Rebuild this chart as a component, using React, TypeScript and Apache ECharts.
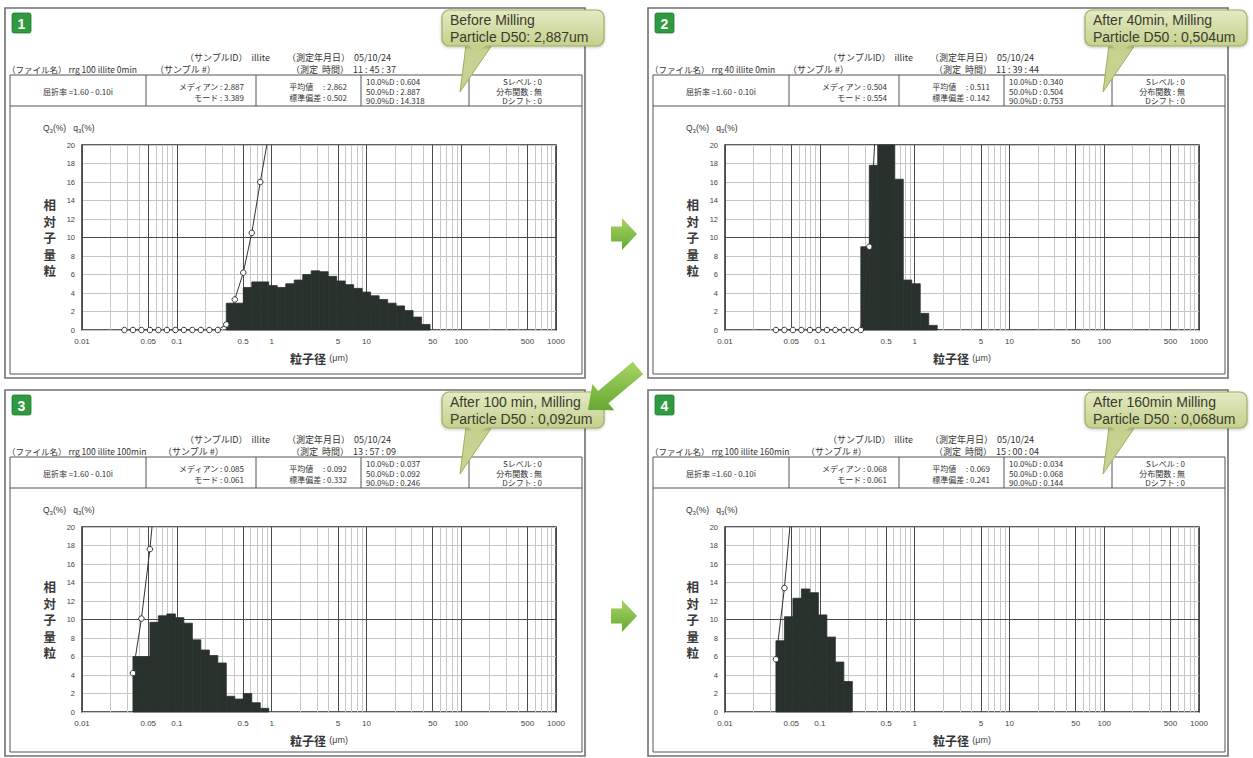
import React, { useEffect, useRef } from "react";
import * as echarts from "echarts";

// ---------- DATA ----------
// Instrument channel edges (µm), channel 5 .. channel 41
const FIRST_CHANNEL = 5;
const CHANNEL_EDGES = [
  0.02803, 0.03445, 0.04233, 0.05203, 0.06394, 0.07858, 0.0966, 0.11871,
  0.14589, 0.1793, 0.22036, 0.27083, 0.33285, 0.40908, 0.50277, 0.6179,
  0.75942, 0.93313, 1.1468, 1.4094, 1.7322, 2.1289, 2.6164, 3.2156, 3.9521,
  4.8572, 5.9696, 7.3367, 9.017, 11.082, 13.62, 16.739, 20.573, 25.284,
  31.075, 38.192, 46.939,
];

const X_TICKS = [0.01, 0.05, 0.1, 0.5, 1, 5, 10, 50, 100, 500, 1000];
const X_MIN = 0.01;
const X_MAX = 1000;
const Y_MAX = 20;
const Y_STEP = 2;
const Y_BOLD_LINE = 10;
const DECADES = [0.01, 0.1, 1, 10, 100];
const MINOR_MULT = [2, 3, 4, 6, 7, 8, 9];
const MID_MULT = 5;

// q3 (%) histogram per channel, starting at channel BIN_START[i]
const BIN_START = [17, 16, 6, 6];
const Q3_BINS_1 = [2.9, 2.9, 4.6, 5.2, 5.2, 4.8, 4.6, 5.0, 5.4, 6.0, 6.4, 6.3, 5.8, 5.3, 4.9, 4.5, 4.1, 3.7, 3.3, 2.9, 2.6, 2.1, 1.4, 0.6];
const Q3_BINS_2 = [9.0, 17.8, 24.0, 20.3, 16.3, 5.4, 5.0, 1.8, 0.5];
const Q3_BINS_3 = [6.0, 6.0, 9.7, 10.4, 10.6, 10.2, 9.6, 7.8, 6.7, 6.1, 5.3, 1.7, 1.4, 2.0, 1.0, 0.4];
const Q3_BINS_4 = [7.7, 10.3, 12.3, 13.3, 12.9, 10.5, 8.1, 5.4, 3.3];
const BINS = [Q3_BINS_1, Q3_BINS_2, Q3_BINS_3, Q3_BINS_4];

// Q3 (%) cumulative points at channel edges, starting at CUM_START[i]
const CUM_START = [5, 6, 6, 6];
const Q3_CUM_1 = [0, 0, 0, 0, 0, 0, 0, 0, 0, 0, 0, 0, 0.6, 3.3, 6.2, 10.5, 16.0, 21.2];
const Q3_CUM_2 = [0, 0, 0, 0, 0, 0, 0, 0, 0, 0, 0, 9.0, 26.8];
const Q3_CUM_3 = [4.2, 10.1, 17.6, 27.3];
const Q3_CUM_4 = [5.7, 13.4, 23.7];
const CUMS = [Q3_CUM_1, Q3_CUM_2, Q3_CUM_3, Q3_CUM_4];

const BADGES = ["1", "2", "3", "4"];
const SAMPLE_ID = "illite";
const MEASURE_DATE = "05/10/24";
const FILE_NAMES = ["rrg 100 illite 0min", "rrg 40 illite 0min", "rrg 100 illite 100min", "rrg 100 illite 160min"];
const MEASURE_TIMES = ["11 : 45 : 37", "11 : 39 : 44", "13 : 57 : 09", "15 : 00 : 04"];
const REFRACTIVE = "屈折率 =1.60 - 0.10i";
const MEDIANS = ["2.887", "0.504", "0.085", "0.068"];
const MODES = ["3.389", "0.554", "0.061", "0.061"];
const MEANS = ["2.862", "0.511", "0.092", "0.069"];
const SDS = ["0.502", "0.142", "0.332", "0.241"];
const D10S = ["0.604", "0.340", "0.037", "0.034"];
const D50S = ["2.887", "0.504", "0.092", "0.068"];
const D90S = ["14.318", "0.753", "0.246", "0.144"];
const CALLOUT_TITLES = ["Before Milling", "After 40min, Milling", "After 100 min, Milling", "After 160min Milling"];
const CALLOUT_D50 = ["Particle D50: 2,887um", "Particle D50 : 0,504um", "Particle D50 : 0,092um", "Particle D50 : 0,068um"];

// ---------- LAYOUT ----------
const W = 1253;
const H = 758;
const PANELS = [
  { x: 5, y: 8, h: 370 },
  { x: 648, y: 8, h: 370 },
  { x: 5, y: 390, h: 366 },
  { x: 648, y: 390, h: 366 },
];
const SAMPLE_NO_X = [150, 140, 158, 158];
const PANEL_W = 580;
const CJK = '"Noto Sans CJK JP", "Noto Sans", sans-serif';
const LAT = '"Liberation Sans", Arial, sans-serif';
const NARROW = '"Liberation Sans Narrow", "Liberation Sans", Arial, sans-serif';
const BAR_COLOR = "#29312d";
const DARK_GRID = "#4a4a4a";
const LIGHT_GRID = "#c6c6c6";

function edge(ch: number) {
  return CHANNEL_EDGES[ch - FIRST_CHANNEL];
}

function txt(x: number, y: number, text: string, o: any = {}) {
  const align = o.align || "left";
  return {
    type: "text",
    x,
    y,
    z: 100,
    silent: true,
    style: {
      text,
      fill: o.fill || "#333",
      fontSize: o.size || 8.5,
      fontFamily: o.family || CJK,
      fontWeight: o.weight || "normal",
      align,
      textAlign: align,
      verticalAlign: "middle",
      textVerticalAlign: "middle",
      rich: o.rich,
    },
  };
}

function arrowPoints(tail: number[], tip: number[], sh: number, hh: number, hl: number) {
  const dx = tip[0] - tail[0];
  const dy = tip[1] - tail[1];
  const L = Math.hypot(dx, dy);
  const ux = dx / L, uy = dy / L;
  const nx = -uy, ny = ux;
  const bx = tip[0] - ux * hl, by = tip[1] - uy * hl;
  return [
    [tail[0] + nx * sh, tail[1] + ny * sh],
    [bx + nx * sh, by + ny * sh],
    [bx + nx * hh, by + ny * hh],
    [tip[0], tip[1]],
    [bx - nx * hh, by - ny * hh],
    [bx - nx * sh, by - ny * sh],
    [tail[0] - nx * sh, tail[1] - ny * sh],
  ];
}

const ARROW_FILL = {
  type: "linear", x: 0, y: 0, x2: 0, y2: 1,
  colorStops: [{ offset: 0, color: "#a8d466" }, { offset: 1, color: "#67a832" }],
};

function panelGraphics(i: number) {
  const { x: px, y: py, h: ph } = PANELS[i];
  const els: any[] = [];
  // panel frame
  els.push({ type: "rect", z: -10, silent: true, shape: { x: px, y: py, width: PANEL_W, height: ph }, style: { fill: "#fff", stroke: "#707070", lineWidth: 1.6 } });
  // content box + table
  const tTop = py + 67, tBot = py + 98;
  els.push({ type: "rect", z: -9, silent: true, shape: { x: px + 5, y: tTop, width: 572, height: ph - 71 }, style: { fill: "none", stroke: "#555", lineWidth: 1 } });
  els.push({ type: "line", z: -9, silent: true, shape: { x1: px + 5, y1: tBot, x2: px + 577, y2: tBot }, style: { stroke: "#555", lineWidth: 1 } });
  [141, 251, 356, 464].forEach((cx) => {
    els.push({ type: "line", z: -9, silent: true, shape: { x1: px + cx, y1: tTop, x2: px + cx, y2: tBot }, style: { stroke: "#555", lineWidth: 1 } });
  });
  // badge
  els.push({ type: "rect", z: 100, silent: true, shape: { x: px + 7, y: py + 5, width: 19, height: 20, r: 2 }, style: { fill: "#2f9a40", stroke: "#1f7a2e", lineWidth: 0.8 } });
  els.push(txt(px + 16.5, py + 15.5, BADGES[i], { fill: "#fff", size: 14, family: LAT, weight: "bold", align: "center" }));
  // header
  els.push(txt(px + 180, py + 49, "（サンプルID）  " + SAMPLE_ID, { size: 9 }));
  els.push(txt(px + 282, py + 49, "（測定年月日）  " + MEASURE_DATE, { size: 9 }));
  els.push(txt(px + 2, py + 61, "（ファイル名） " + FILE_NAMES[i], { size: 8.5 }));
  els.push(txt(px + SAMPLE_NO_X[i], py + 61, "（サンプル #）", { size: 9 }));
  els.push(txt(px + 286, py + 61, "（測定  時間）  " + MEASURE_TIMES[i], { size: 9 }));
  // table texts
  els.push(txt(px + 73, py + 83, REFRACTIVE, { align: "center", size: 8 }));
  els.push(txt(px + 239, py + 78, "メディアン : " + MEDIANS[i], { align: "right", size: 8 }));
  els.push(txt(px + 239, py + 89, "モード : " + MODES[i], { align: "right", size: 8 }));
  els.push(txt(px + 342, py + 78, "平均値　 : " + MEANS[i], { align: "right", size: 8 }));
  els.push(txt(px + 342, py + 89, "標準偏差 : " + SDS[i], { align: "right", size: 8 }));
  els.push(txt(px + 361, py + 73.5, "10.0%D : " + D10S[i], { size: 8 }));
  els.push(txt(px + 361, py + 83, "50.0%D : " + D50S[i], { size: 8 }));
  els.push(txt(px + 361, py + 92.5, "90.0%D : " + D90S[i], { size: 8 }));
  els.push(txt(px + 537, py + 73.5, "Sレベル : 0", { align: "right", size: 8 }));
  els.push(txt(px + 537, py + 83, "分布関数 : 無", { align: "right", size: 8 }));
  els.push(txt(px + 537, py + 92.5, "Dシフト : 0", { align: "right", size: 8 }));
  // Q3 / q3 label
  els.push(txt(px + 38, py + 120, "Q{s|3}(%)   q{s|3}(%)", {
    size: 8.5, family: LAT,
    rich: { s: { fontSize: 6, fontFamily: LAT, fill: "#333", padding: [5, 0, 0, 0] } },
  }));
  // callout
  const cFill = {
    type: "linear", x: 0, y: 0, x2: 0, y2: 1,
    colorStops: [{ offset: 0, color: "#e4eac4" }, { offset: 1, color: "#c5d08c" }],
  };
  els.push({ type: "polygon", z: 110, silent: true, shape: { points: [[px + 461, py + 37], [px + 487, py + 37], [px + 455, py + 84]] }, style: { fill: "#c8d290", stroke: "#9fae62", lineWidth: 1 } });
  els.push({ type: "rect", z: 111, silent: true, shape: { x: px + 437, y: py + 2, width: 162, height: 36, r: 7 }, style: { fill: cFill, stroke: "#9fae62", lineWidth: 1.2, shadowBlur: 3, shadowColor: "rgba(0,0,0,0.25)", shadowOffsetY: 1 } });
  els.push({ type: "polygon", z: 112, silent: true, shape: { points: [[px + 462.5, py + 36], [px + 485, py + 36], [px + 470, py + 44]] }, style: { fill: "#c6d08d" } });
  const t1 = txt(px + 445, py + 12, CALLOUT_TITLES[i], { size: 14, family: NARROW, fill: "#3b3b2c" });
  const t2 = txt(px + 445, py + 29, CALLOUT_D50[i], { size: 14, family: NARROW, fill: "#3b3b2c" });
  t1.z = 113; t2.z = 113;
  els.push(t1, t2);
  return els;
}

function buildOption() {
  const grids: any[] = [];
  const xAxes: any[] = [];
  const yAxes: any[] = [];
  const series: any[] = [];
  let graphics: any[] = [];

  const vLines: any[] = [];
  DECADES.forEach((d) => {
    MINOR_MULT.forEach((m) => vLines.push({ xAxis: d * m, lineStyle: { color: LIGHT_GRID, width: 1, type: "solid" } }));
    vLines.push({ xAxis: d * MID_MULT, lineStyle: { color: DARK_GRID, width: 1, type: "solid" } });
  });
  vLines.push({ yAxis: Y_BOLD_LINE, lineStyle: { color: DARK_GRID, width: 1.2, type: "solid" } });

  PANELS.forEach((p, i) => {
    grids.push({
      left: p.x + 77, top: p.y + 137, width: 474, height: 185,
      show: true, borderColor: "#2a2a2a", borderWidth: 1.5, backgroundColor: "rgba(0,0,0,0)",
      containLabel: false, outerBoundsMode: "none",
    });
    xAxes.push({
      type: "log", logBase: 10, gridIndex: i, min: X_MIN, max: X_MAX,
      axisLine: { show: false }, axisTick: { show: false }, minorTick: { show: false },
      splitLine: { show: true, lineStyle: { color: DARK_GRID, width: 1 } },
      axisLabel: {
        customValues: X_TICKS, fontSize: 8, color: "#444", fontFamily: LAT, margin: 7,
        formatter: (v: number) => String(+Number(v).toPrecision(6)),
      },
      name: "{a|粒子径} {b|(μm)}", nameLocation: "middle", nameGap: 22,
      nameTextStyle: {
        rich: {
          a: { fontSize: 12, fontWeight: "bold", color: "#333", fontFamily: CJK },
          b: { fontSize: 9, color: "#444", fontFamily: LAT },
        },
      },
    });
    yAxes.push({
      type: "value", gridIndex: i, min: 0, max: Y_MAX, interval: Y_STEP,
      axisLine: { show: false }, axisTick: { show: false },
      splitLine: { show: true, lineStyle: { color: LIGHT_GRID, width: 1 } },
      axisLabel: { fontSize: 7.5, color: "#444", fontFamily: LAT, margin: 7 },
      name: "相\n対\n子\n量\n粒", nameLocation: "middle", nameRotate: 0, nameGap: 26,
      nameTextStyle: { fontSize: 12.5, fontWeight: "bold", lineHeight: 16.5, color: "#3a3a3a", fontFamily: CJK },
    });
    // minor / mid grid lines (under the bars)
    series.push({
      type: "line", xAxisIndex: i, yAxisIndex: i, z: 1, data: [], silent: true,
      markLine: {
        z: 1, silent: true, symbol: ["none", "none"], label: { show: false }, animation: false,
        lineStyle: { type: "solid" }, data: vLines,
      },
    });
    // q3 histogram
    const bins = BINS[i];
    series.push({
      type: "custom", xAxisIndex: i, yAxisIndex: i, z: 6, silent: true,
      data: bins.map((v, j) => [edge(BIN_START[i] + j), edge(BIN_START[i] + j + 1), v]),
      encode: { x: [0, 1], y: 2 },
      renderItem: (params: any, api: any) => {
        const a = api.coord([api.value(0), api.value(2)]);
        const b = api.coord([api.value(1), 0]);
        const cs = params.coordSys;
        const shape = echarts.graphic.clipRectByRect(
          { x: a[0], y: a[1], width: b[0] - a[0], height: b[1] - a[1] },
          { x: cs.x, y: cs.y, width: cs.width, height: cs.height }
        );
        if (!shape) return null;
        return { type: "rect", shape, style: { fill: BAR_COLOR, stroke: BAR_COLOR, lineWidth: 0.8 } };
      },
    });
    // Q3 cumulative
    series.push({
      type: "line", xAxisIndex: i, yAxisIndex: i, z: 8, silent: true, clip: true,
      data: CUMS[i].map((v, j) => [edge(CUM_START[i] + j), v]),
      symbol: "circle", symbolSize: 5.5, showSymbol: true, showAllSymbol: true,
      lineStyle: { color: "#333", width: 1 },
      itemStyle: { color: "#fff", borderColor: "#333", borderWidth: 1 },
    });
    graphics = graphics.concat(panelGraphics(i));
  });

  // arrows
  graphics.push({ type: "polygon", z: 120, silent: true, shape: { points: arrowPoints([611, 234], [637, 234], 7.5, 16, 15) }, style: { fill: ARROW_FILL } });
  graphics.push({ type: "polygon", z: 120, silent: true, shape: { points: arrowPoints([611, 616], [637, 616], 7.5, 16, 15) }, style: { fill: ARROW_FILL } });
  graphics.push({ type: "polygon", z: 120, silent: true, shape: { points: arrowPoints([638, 368], [588, 410], 8, 17, 20) }, style: { fill: ARROW_FILL } });

  return {
    animation: false,
    backgroundColor: "#ffffff",
    grid: grids,
    xAxis: xAxes,
    yAxis: yAxes,
    series,
    graphic: { elements: graphics },
  };
}

export default function App() {
  const ref = useRef<HTMLDivElement>(null);
  useEffect(() => {
    const chart = echarts.init(ref.current as HTMLDivElement, null, { renderer: "svg", width: W, height: H });
    chart.setOption(buildOption() as any);
    return () => chart.dispose();
  }, []);
  return (
    <div
      ref={ref}
      style={{ position: "fixed", left: 0, top: 0, width: W, height: H, background: "#fff" }}
    />
  );
}
